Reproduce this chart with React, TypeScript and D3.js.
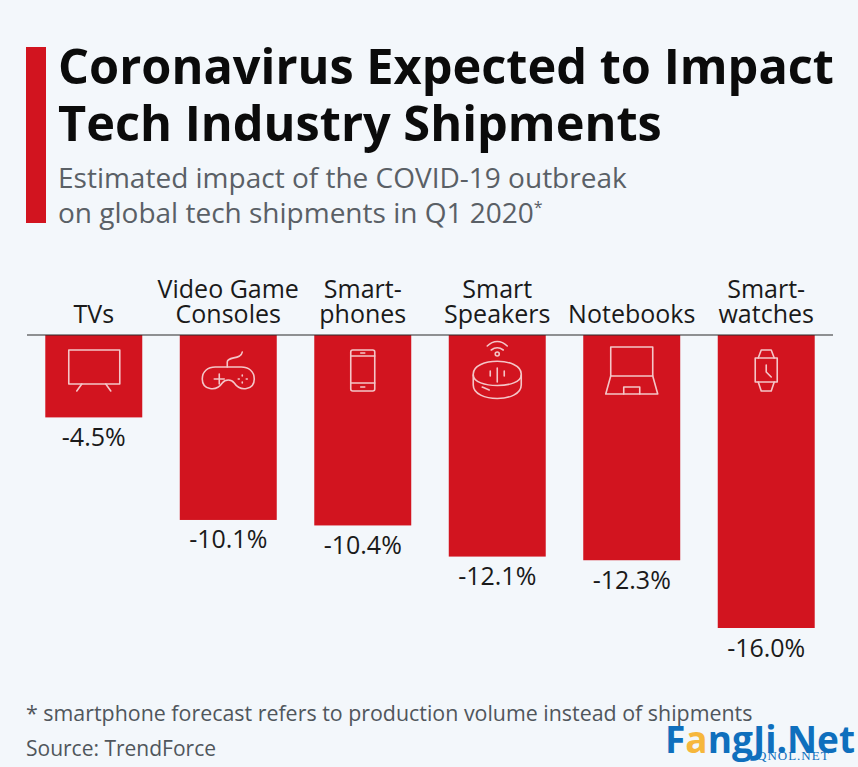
import { useEffect, useRef } from "react";
import * as d3 from "d3";

const categories = ["TVs", "Video Game Consoles", "Smartphones", "Smart Speakers", "Notebooks", "Smartwatches"];
const values = [-4.5, -10.1, -10.4, -12.1, -12.3, -16.0];
const valueLabels = ["-4.5%", "-10.1%", "-10.4%", "-12.1%", "-12.3%", "-16.0%"];
const categoryLines = [
  ["TVs"],
  ["Video Game", "Consoles"],
  ["Smart-", "phones"],
  ["Smart", "Speakers"],
  ["Notebooks"],
  ["Smart-", "watches"],
];
const titleLines = ["Coronavirus Expected to Impact", "Tech Industry Shipments"];
const subtitleLines = ["Estimated impact of the COVID-19 outbreak", "on global tech shipments in Q1 2020"];
const footnote = "* smartphone forecast refers to production volume instead of shipments";
const source = "Source: TrendForce";

const RED = "#d2141f";
const ICON = "#f4c6c8";
const FONT = "'Open Sans', sans-serif";

// icon outlines, centred on the bar and measured from the baseline
const drawIcon = (g: any, i: number) => {
  g.attr("stroke-linejoin", "round").attr("stroke-linecap", "round");
  const p = (d: string) =>
    g.append("path").attr("d", d).attr("fill", "none").attr("stroke", ICON).attr("stroke-width", 1.6);
  if (i === 0) {
    p("M-25,15H26V49H-25Z");
    p("M-12,49L-17,56M12,49L17,56");
  } else if (i === 1) {
    p("M-26,44C-26,36 -20,32 -13,32H13C20,32 26,36 26,44C26,55 12,57 6,48C3,44 -3,44 -6,48C-12,57 -26,55 -26,44Z");
    p("M-1,32V27C-1,21 13,25 14,17");
    p("M-14,44H-4M-9,39V49");
    p("M10,44h1M18,44h1M14,40v1M14,47v1");
  } else if (i === 2) {
    p("M-10,15H10Q12,15 12,17V54Q12,56 10,56H-10Q-12,56 -12,54V17Q-12,15 -10,15Z");
    p("M-12,21H12M-12,48H12M-2,18H2M-2,52H2");
  } else if (i === 3) {
    p("M-24,39C-24,22 24,22 24,39V50C24,68 -24,68 -24,50Z");
    p("M-24,40C-24,54 24,54 24,40");
    p("M-7,36v5M0,33v14M7,36v5");
    p("M-15,52l7,3");
    p("M-10,11C-4,5 4,5 10,11M-6,15C-2,12 2,12 6,15");
    g.append("circle").attr("cy", 19).attr("r", 2).attr("fill", "none").attr("stroke", ICON).attr("stroke-width", 1.6);
  } else if (i === 4) {
    p("M-21,12H21V41H-21Z");
    p("M-21,41L-26,59H26L21,41");
    p("M-8,59V52H8V59");
  } else {
    p("M-11,23H11V47H-11Z");
    p("M-8,23L-5,15H5L8,23M-8,47L-5,56H5L8,47");
    p("M0,30V37L5,42");
  }
};

const App = () => {
  const ref = useRef(null);

  useEffect(() => {
    document.body.style.margin = "0";
    d3.select(ref.current).select("svg").remove();

    const svg = d3
      .select(ref.current)
      .append("svg")
      .attr("width", 858)
      .attr("height", 767)
      .style("display", "block")
      .style("font-family", FONT);

    svg.append("rect").attr("width", 858).attr("height", 767).attr("fill", "#f3f7fb");

    // title block
    svg.append("rect").attr("x", 26).attr("y", 47).attr("width", 20).attr("height", 176).attr("fill", RED);
    titleLines.forEach((t, i) => {
      svg
        .append("text")
        .attr("x", 58)
        .attr("y", 84 + i * 56.5)
        .attr("font-size", 48.7)
        .attr("font-weight", 700)
        .attr("fill", "#0b0b0b")
        .text(t);
    });
    subtitleLines.forEach((t, i) => {
      const s = svg
        .append("text")
        .attr("x", 58)
        .attr("y", 188 + i * 35)
        .attr("font-size", 28)
        .attr("fill", "#5a6066")
        .text(t);
      if (i === 1) s.append("tspan").attr("font-size", 16).attr("dy", -10).text("*");
    });

    const x = d3.scaleBand().domain(categories).range([27, 833]).paddingInner(0.279).paddingOuter(0.136);
    const y = d3.scaleLinear().domain([0, -16]).range([335, 628]);

    const bars = svg.append("g").selectAll("g").data(categories).join("g");

    bars
      .append("rect")
      .attr("x", (d) => x(d)!)
      .attr("y", y(0))
      .attr("width", x.bandwidth())
      .attr("height", (_, i) => y(values[i]) - y(0))
      .attr("fill", RED);

    bars
      .append("text")
      .attr("x", (d) => x(d)! + x.bandwidth() / 2)
      .attr("y", (_, i) => y(values[i]) + 28.5)
      .attr("text-anchor", "middle")
      .attr("font-size", 25)
      .attr("fill", "#1a1a1a")
      .text((_, i) => valueLabels[i]);

    // category labels sit on the baseline, last line at the same height
    bars.each(function (d, i) {
      const lines = categoryLines[i];
      lines.forEach((t, j) => {
        d3.select(this)
          .append("text")
          .attr("x", x(d)! + x.bandwidth() / 2)
          .attr("y", 323 - (lines.length - 1 - j) * 25.5)
          .attr("text-anchor", "middle")
          .attr("font-size", 25)
          .attr("fill", "#1a1a1a")
          .text(t);
      });
      const icon = d3.select(this).append("g").attr("transform", `translate(${x(d)! + x.bandwidth() / 2},${y(0)})`);
      drawIcon(icon, i);
    });

    svg
      .append("line")
      .attr("x1", 27)
      .attr("x2", 833)
      .attr("y1", y(0))
      .attr("y2", y(0))
      .attr("stroke", "#2a2a2a")
      .attr("stroke-width", 1.2);

    // footer
    svg.append("text").attr("x", 26).attr("y", 721).attr("font-size", 21.4).attr("fill", "#50565c").text(footnote);
    svg.append("text").attr("x", 26).attr("y", 756).attr("font-size", 21).attr("fill", "#50565c").text(source);

    // watermark
    const mark = svg
      .append("text")
      .attr("x", 665)
      .attr("y", 753)
      .attr("font-size", 37)
      .attr("font-weight", 700)
      .attr("fill", "#0f6fbd");
    mark.append("tspan").text("F");
    mark.append("tspan").attr("fill", "#f6b73c").text("a");
    mark.append("tspan").text("ngJi.Net");
    svg
      .append("text")
      .attr("x", 757)
      .attr("y", 760)
      .attr("font-size", 13)
      .attr("font-family", "'Liberation Serif', serif")
      .attr("letter-spacing", 1)
      .attr("fill", "#0f6fbd")
      .text("QNOL.NET");

    return () => {
      d3.select(ref.current).select("svg").remove();
    };
  }, []);

  return <div ref={ref}></div>;
};

export default App;
